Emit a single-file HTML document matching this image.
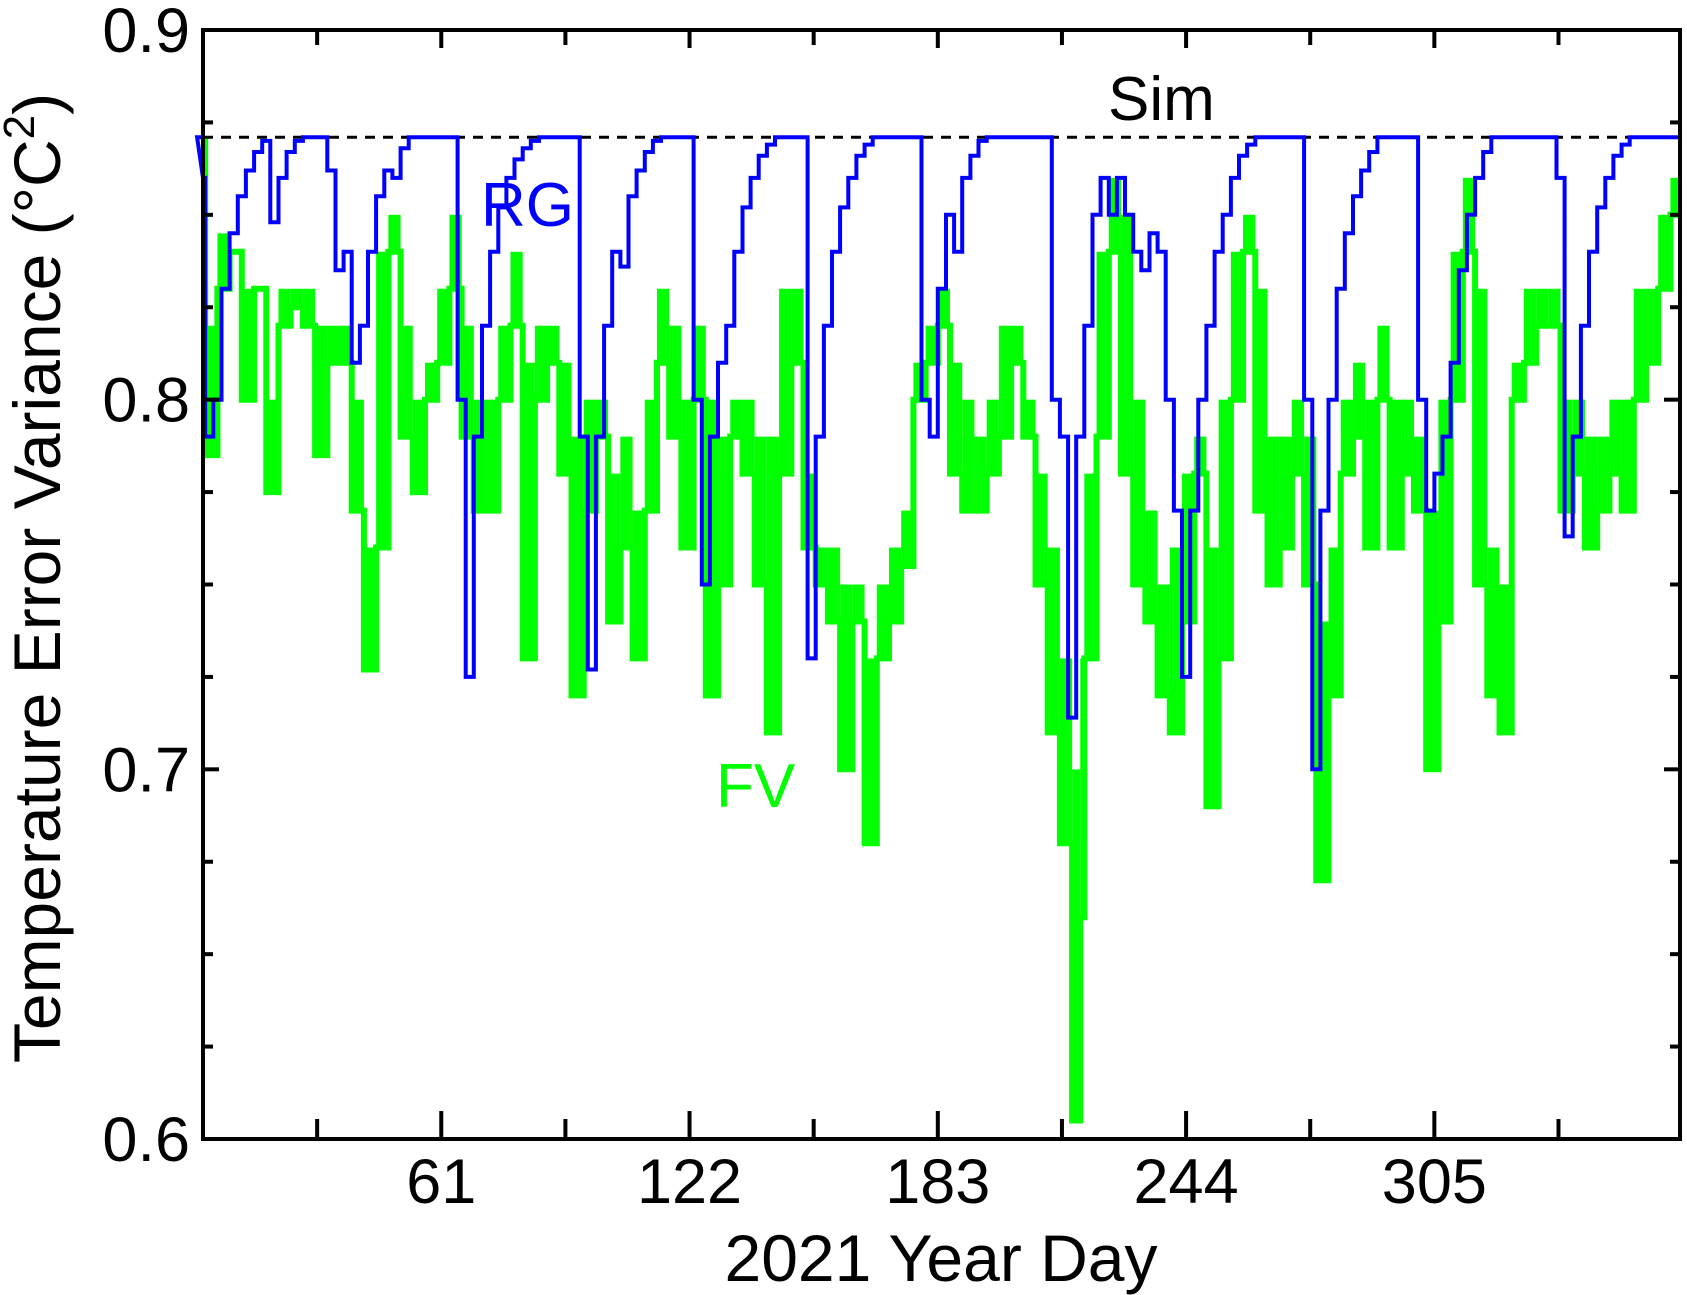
<!DOCTYPE html>
<html><head><meta charset="utf-8"><style>
html,body{margin:0;padding:0;background:#fff;}
svg{display:block;font-family:"Liberation Sans",Arial,sans-serif;}
</style></head><body>
<svg id="chart" width="1687" height="1295" viewBox="0 0 1687 1295" xmlns="http://www.w3.org/2000/svg">
<rect x="0" y="0" width="1687" height="1295" fill="#fff"/>
<g id="series"></g>
<g id="axes"></g>
<text x="1108" y="120" font-size="62" fill="#000">Sim</text>
<text x="481" y="226" font-size="62" fill="#0000ff">RG</text>
<text x="716" y="807" font-size="62" fill="#00ff00">FV</text>
<text x="941" y="1281" font-size="66" text-anchor="middle" fill="#000">2021 Year Day</text>
<text transform="translate(60,578) rotate(-90)" font-size="66" text-anchor="middle" fill="#000">Temperature Error Variance (°C<tspan font-size="44" dy="-26">2</tspan><tspan dy="26">)</tspan></text>
</svg>
<script>
const xTicks = [61, 122, 183, 244, 305];
const xMinorTicks = [30.5, 91.5, 152.5, 213.5, 274.5, 335.5];
const yTicks = [0.6, 0.7, 0.8, 0.9];
const yTickLabels = ["0.6", "0.7", "0.8", "0.9"];
const simValue = 0.871;
const fvDays = [3,6,9,12,15,18,21,24,27,30,33,36,39,42,45,48,51,54,57,60,63,66,69,72,75,78,81,84,87,90,93,96,99,102,105,108,111,114,117,120,123,126,129,132,135,138,141,144,147,150,153,156,159,162,165,168,171,174,177,180,183,186,189,192,195,198,201,204,207,210,213,216,218,219,222,225,228,231,234,237,240,243,246,249,252,255,258,261,264,267,270,273,276,279,282,285,288,291,294,297,300,303,306,309,312,315,318,321,324,327,330,333,336,339,342,345,348,351,354,357,360,363,365];
const fvValues = [0.87,0.785,0.83,0.84,0.80,0.83,0.775,0.82,0.825,0.82,0.785,0.81,0.81,0.77,0.727,0.76,0.84,0.79,0.775,0.80,0.81,0.83,0.79,0.77,0.77,0.80,0.82,0.73,0.80,0.81,0.78,0.72,0.77,0.79,0.74,0.76,0.73,0.77,0.81,0.79,0.76,0.80,0.72,0.75,0.79,0.78,0.75,0.71,0.78,0.81,0.76,0.75,0.74,0.70,0.74,0.68,0.73,0.74,0.755,0.80,0.81,0.82,0.78,0.77,0.77,0.78,0.79,0.81,0.79,0.75,0.71,0.68,0.605,0.66,0.73,0.79,0.84,0.78,0.75,0.74,0.72,0.71,0.74,0.78,0.69,0.73,0.80,0.84,0.77,0.75,0.76,0.78,0.75,0.67,0.72,0.78,0.79,0.76,0.80,0.76,0.78,0.77,0.70,0.74,0.80,0.84,0.75,0.72,0.71,0.80,0.81,0.82,0.82,0.77,0.78,0.76,0.77,0.78,0.77,0.80,0.81,0.83,0.85];
const fvUpper = [0.87,0.82,0.845,0.835,0.83,0.83,0.8,0.83,0.83,0.83,0.82,0.82,0.82,0.8,0.76,0.84,0.85,0.82,0.8,0.81,0.83,0.85,0.82,0.8,0.8,0.82,0.84,0.81,0.82,0.82,0.81,0.79,0.8,0.8,0.78,0.79,0.77,0.8,0.83,0.82,0.8,0.82,0.8,0.79,0.8,0.8,0.79,0.79,0.83,0.83,0.78,0.76,0.76,0.75,0.75,0.73,0.75,0.76,0.77,0.81,0.82,0.83,0.81,0.8,0.79,0.8,0.82,0.82,0.8,0.78,0.76,0.73,0.7,0.73,0.78,0.84,0.86,0.85,0.8,0.77,0.75,0.76,0.78,0.79,0.76,0.8,0.84,0.85,0.83,0.79,0.79,0.8,0.79,0.74,0.76,0.8,0.81,0.8,0.82,0.8,0.8,0.79,0.77,0.8,0.84,0.86,0.83,0.76,0.75,0.81,0.83,0.83,0.83,0.8,0.8,0.79,0.79,0.8,0.8,0.83,0.83,0.85,0.86];
const rgDays = [1,3,5,7,9,11,13,15,17,19,21,23,25,27,29,31,33,35,37,39,41,43,45,47,49,51,53,55,57,59,61,63,65,67,69,71,73,75,77,79,81,83,85,87,89,91,93,95,97,99,101,103,105,107,109,111,113,115,117,119,121,123,125,127,129,131,133,135,137,139,141,143,145,147,149,151,153,155,157,159,161,163,165,167,169,171,173,175,177,179,181,183,185,187,189,191,193,195,197,199,201,203,205,207,209,211,213,215,217,219,221,223,225,227,229,231,233,235,237,239,241,243,245,247,249,251,253,255,257,259,261,263,265,267,269,271,273,275,277,279,281,283,285,287,289,291,293,295,297,299,301,303,305,307,309,311,313,315,317,319,321,323,325,327,329,331,333,335,337,339,341,343,345,347,349,351,353,355,357,359,361,363,365];
const rgValues = [0.871,0.86,0.79,0.80,0.83,0.845,0.855,0.862,0.867,0.87,0.848,0.86,0.867,0.87,0.871,0.871,0.871,0.862,0.835,0.84,0.81,0.82,0.84,0.855,0.862,0.86,0.868,0.871,0.871,0.871,0.871,0.871,0.871,0.80,0.725,0.79,0.82,0.84,0.852,0.86,0.865,0.868,0.87,0.871,0.871,0.871,0.871,0.871,0.79,0.727,0.79,0.82,0.84,0.836,0.855,0.862,0.867,0.87,0.871,0.871,0.871,0.871,0.80,0.75,0.79,0.81,0.82,0.84,0.852,0.86,0.866,0.869,0.871,0.871,0.871,0.871,0.73,0.79,0.82,0.84,0.852,0.86,0.866,0.869,0.871,0.871,0.871,0.871,0.871,0.871,0.80,0.79,0.83,0.85,0.84,0.86,0.866,0.87,0.871,0.871,0.871,0.871,0.871,0.871,0.871,0.871,0.80,0.79,0.714,0.79,0.82,0.85,0.86,0.85,0.86,0.85,0.84,0.835,0.845,0.84,0.80,0.77,0.725,0.77,0.80,0.82,0.84,0.85,0.86,0.866,0.869,0.871,0.871,0.871,0.871,0.871,0.871,0.80,0.70,0.77,0.80,0.83,0.845,0.855,0.862,0.867,0.871,0.871,0.871,0.871,0.871,0.80,0.77,0.78,0.79,0.81,0.835,0.85,0.86,0.867,0.871,0.871,0.871,0.871,0.871,0.871,0.871,0.871,0.86,0.763,0.79,0.82,0.84,0.852,0.86,0.866,0.869,0.871,0.871,0.871,0.871,0.871,0.871];

const L=203,R=1680,T=30,B=1139;
const xScale = d => 193 + 4.07*d;
const yScale = v => B - (v-0.6)/0.3*(B-T);
const NS="http://www.w3.org/2000/svg";
function mk(tag, attrs, parent){const e=document.createElementNS(NS,tag);for(const k in attrs)e.setAttribute(k,attrs[k]);parent.appendChild(e);return e;}
const series=document.getElementById('series');
const axes=document.getElementById('axes');

function stepPath(days, vals){
  let d='';
  for(let i=0;i<days.length;i++){
    const x0=Math.max(L,xScale(days[i]-(i>0?(days[i]-days[i-1]):1)));
    const x1=Math.min(R,xScale(days[i]));
    const y=yScale(vals[i]);
    d+=(i===0?'M':'L')+x0.toFixed(1)+','+y.toFixed(1)+'L'+x1.toFixed(1)+','+y.toFixed(1);
  }
  return d;
}
// FV range bars
for(let i=0;i<fvDays.length;i++){
  const x0=Math.max(L,xScale(fvDays[i]-(i>0?(fvDays[i]-fvDays[i-1]):1)));
  const x1=Math.min(R,xScale(fvDays[i]));
  const hi=Math.max(fvUpper[i],fvValues[i]);
  const r=mk('rect',{x:x0,y:yScale(hi),width:Math.max(1,x1-x0),height:Math.max(1,yScale(fvValues[i])-yScale(hi)),fill:'#00ff00'},series);
  
  
}
const fv=mk('path',{d:stepPath(fvDays,fvValues),fill:'none',stroke:'#00ff00','stroke-width':6,'stroke-linejoin':'miter'},series);


const sim=mk('line',{x1:L,x2:R,y1:yScale(simValue),y2:yScale(simValue),stroke:'#000','stroke-width':3,'stroke-dasharray':'10,8'},series);


const rg=mk('path',{d:stepPath(rgDays,rgValues),fill:'none',stroke:'#0000ff','stroke-width':4},series);



const frame=mk('rect',{x:L,y:T,width:R-L,height:B-T,fill:'none',stroke:'#000','stroke-width':4},axes);


xTicks.forEach((t,i)=>{
  const x=xScale(t);
  const tk=mk('line',{x1:x,x2:x,y1:B,y2:B-28,stroke:'#000','stroke-width':4},axes);
  
  
  const tt=mk('line',{x1:x,x2:x,y1:T,y2:T+18,stroke:'#000','stroke-width':4},axes);
  
  
  const lb=mk('text',{x:x,y:1203,'font-size':63,'text-anchor':'middle',fill:'#000'},axes);
  lb.textContent=String(t);
  
  
});
xMinorTicks.forEach(t=>{
  const x=xScale(t);
  const tk=mk('line',{x1:x,x2:x,y1:B,y2:B-20,stroke:'#000','stroke-width':4},axes);
  
  
  const tt=mk('line',{x1:x,x2:x,y1:T,y2:T+15,stroke:'#000','stroke-width':4},axes);
  
  
});
for(let v=0.6;v<=0.9001;v+=0.025){
  const y=yScale(v);
  const major=Math.abs(v*10-Math.round(v*10))<0.01;
  const len=major?16:10;
  const a=mk('line',{x1:L,x2:L+len,y1:y,y2:y,stroke:'#000','stroke-width':4},axes);
  
  
  const b=mk('line',{x1:R,x2:R-len,y1:y,y2:y,stroke:'#000','stroke-width':4},axes);
  
  
}
yTicks.forEach((t,i)=>{
  const lb=mk('text',{x:190,y:yScale(t)+22,'font-size':63,'text-anchor':'end',fill:'#000'},axes);
  lb.textContent=yTickLabels[i];
  
  
});
</script>
</body></html>
